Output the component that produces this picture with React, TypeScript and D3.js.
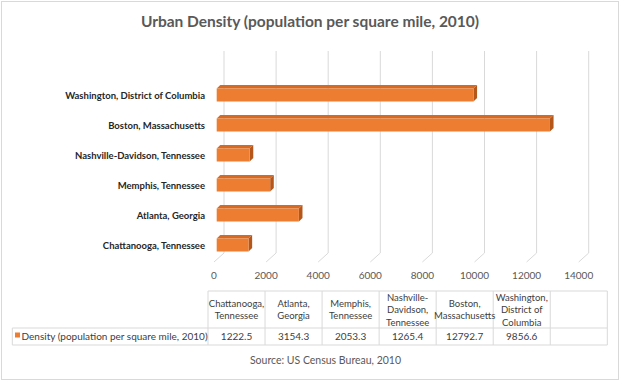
import React from "react";
import * as d3 from "d3";

const categories = [
  "Chattanooga, Tennessee",
  "Atlanta, Georgia",
  "Memphis, Tennessee",
  "Nashville-Davidson, Tennessee",
  "Boston, Massachusetts",
  "Washington, District of Columbia",
];
const values = [1222.5, 3154.3, 2053.3, 1265.4, 12792.7, 9856.6];
const valueLabels = ["1222.5", "3154.3", "2053.3", "1265.4", "12792.7", "9856.6"];
const tableHeaders = [
  ["Chattanooga,", "Tennessee"],
  ["Atlanta,", "Georgia"],
  ["Memphis,", "Tennessee"],
  ["Nashville-", "Davidson,", "Tennessee"],
  ["Boston,", "Massachusetts"],
  ["Washington,", "District of", "Columbia"],
];
const xTicks = [0, 2000, 4000, 6000, 8000, 10000, 12000, 14000];
const title = "Urban Density (population per square mile, 2010)";
const seriesName = "Density (population per square mile, 2010)";
const source = "Source: US Census Bureau, 2010";

const W = 620;
const H = 381;
const FONT = "Lato, 'Open Sans', sans-serif";
const ORANGE = "#ED7D31";
const ORANGE_TOP = "#D66A24";
const ORANGE_SIDE = "#B5561A";
const GRID = "#D9D9D9";

export default function App() {
  // back-wall x scale
  const x = d3.scaleLinear().domain([0, 14000]).range([224, 588.7]);
  const floorDx = -10;
  const floorDy = 9;
  const barDx = -7.3;
  const depth = 3.6;
  const gridTop = 51;
  const gridBottom = 253;

  const yOrder = categories.map((_, i) => i).reverse();
  const y = d3
    .scaleBand<number>()
    .domain(yOrder)
    .range([80, 260])
    .paddingInner(0.567)
    .paddingOuter(0.2835);

  const tableCols = [...categories, ""];
  const tx = d3.scaleBand<string>().domain(tableCols).range([208, 607.3]);
  const tLeft = 12.3;
  const tTop = 291;
  const tMid = 328;
  const tBot = 345;
  const lineH = 12.5;
  const hdrCenter = (tTop + tMid) / 2;

  return (
    <svg
      width={W}
      height={H}
      style={{ position: "absolute", left: 0, top: 0 }}
      fontFamily={FONT}
    >
      <rect x={0} y={0} width={W} height={H} fill="#fff" />
      <rect x={1.5} y={1.5} width={W - 3} height={H - 3} fill="none" stroke="#D9D9D9" strokeWidth={1} />

      <text x={310} y={27} textAnchor="middle" fontSize={15.5} fontWeight={700} fill="#595959">
        {title}
      </text>

      {/* gridlines: back wall + floor diagonals */}
      {xTicks.map((t) => (
        <path
          key={t}
          d={`M${x(t)},${gridTop}L${x(t)},${gridBottom}L${x(t) + floorDx},${gridBottom + floorDy}`}
          fill="none"
          stroke={GRID}
          strokeWidth={1}
        />
      ))}

      {/* tick labels */}
      {xTicks.map((t) => (
        <text key={t} x={x(t) + floorDx} y={279} textAnchor="middle" fontSize={10} fill="#595959">
          {t}
        </text>
      ))}

      {/* bars */}
      {values.map((v, i) => {
        const x0 = x(0) + barDx;
        const x1 = x(v) + barDx;
        const yt = y(i)!;
        const h = y.bandwidth();
        return (
          <g key={i}>
            <path
              d={`M${x0},${yt}L${x0 + depth},${yt - depth}L${x1 + depth},${yt - depth}L${x1},${yt}Z`}
              fill={ORANGE_TOP}
            />
            <path
              d={`M${x1},${yt}L${x1 + depth},${yt - depth}L${x1 + depth},${yt + h - depth}L${x1},${yt + h}Z`}
              fill={ORANGE_SIDE}
            />
            <rect x={x0} y={yt} width={x1 - x0} height={h} fill={ORANGE} />
          </g>
        );
      })}

      {/* category labels */}
      {categories.map((c, i) => (
        <text
          key={c}
          x={205}
          y={y(i)! + y.bandwidth() / 2 + 3.5}
          textAnchor="end"
          fontSize={9.5}
          fontWeight={700}
          fill="#262626"
        >
          {c}
        </text>
      ))}

      {/* data table */}
      <g stroke="#D9D9D9" strokeWidth={1} fill="none">
        <line x1={208} x2={607.3} y1={tTop} y2={tTop} />
        <line x1={tLeft} x2={607.3} y1={tMid} y2={tMid} />
        <line x1={tLeft} x2={607.3} y1={tBot} y2={tBot} />
        <line x1={tLeft} x2={tLeft} y1={tMid} y2={tBot} />
        {tableCols.map((c, i) => (
          <line key={i} x1={tx(c)!} x2={tx(c)!} y1={tTop} y2={tBot} />
        ))}
        <line x1={607.3} x2={607.3} y1={tTop} y2={tBot} />
      </g>
      {categories.map((c, i) => {
        const lines = tableHeaders[i];
        const cx = tx(c)! + tx.bandwidth() / 2;
        return (
          <g key={c}>
            {lines.map((l, j) => (
              <text
                key={j}
                x={cx}
                y={hdrCenter + (j - (lines.length - 1) / 2) * lineH + 3.5}
                textAnchor="middle"
                fontSize={9.5}
                fill="#404040"
              >
                {l}
              </text>
            ))}
            <text x={cx} y={339.5} textAnchor="middle" fontSize={10} fill="#404040">
              {valueLabels[i]}
            </text>
          </g>
        );
      })}
      <rect x={15} y={332.5} width={5} height={5} fill={ORANGE} />
      <text x={21.5} y={339.5} fontSize={10} fill="#404040">
        {seriesName}
      </text>

      <text x={325.5} y={364} textAnchor="middle" fontSize={10.5} fill="#595959">
        {source}
      </text>
    </svg>
  );
}
